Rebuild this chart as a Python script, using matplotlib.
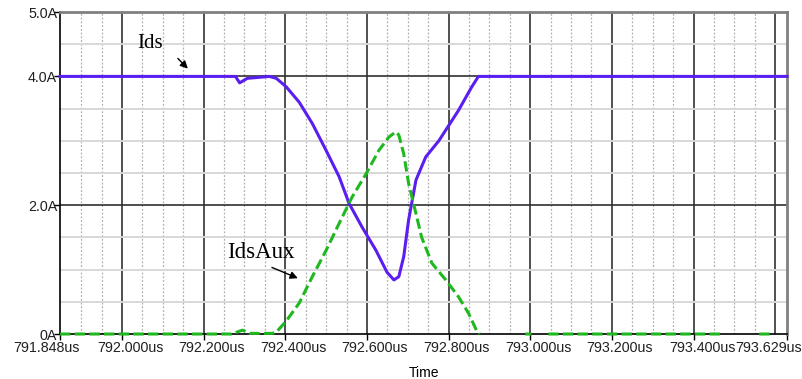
import numpy as np
import matplotlib
matplotlib.use("Agg")
import matplotlib.pyplot as plt
import matplotlib.transforms as mtransforms

# time axis in us, currents in A
ids_t = [791.848, 792.278, 792.288, 792.307, 792.361, 792.378, 792.402, 792.434,
         792.466, 792.500, 792.532, 792.556, 792.588, 792.622, 792.649, 792.666,
         792.678, 792.690, 792.702, 792.720, 792.744, 792.776, 792.824, 792.856,
         792.873, 793.629]
ids_i = [4.0, 4.0, 3.9, 3.97, 4.0, 3.97, 3.84, 3.6,
         3.27, 2.85, 2.44, 2.03, 1.66, 1.30, 0.96, 0.84,
         0.89, 1.2, 1.77, 2.39, 2.75, 3.0, 3.47, 3.83,
         4.0, 4.0]

# the green trace has holes on its zero line in the reference (nan = not drawn)
aux_t = [791.848, 792.268, 792.295, 792.312, 792.368, 792.378, 792.402, 792.434,
         792.466, 792.500, 792.532, 792.563, 792.598, 792.629, 792.654, 792.671,
         792.678, 792.690, 792.702, 792.720, 792.734, 792.759, 792.793, 792.824,
         792.849, 792.868, 792.876, 792.880,
         792.988, 793.003, 793.010,
         793.044, 793.471, 793.480,
         793.561, 793.586]
aux_i = [0.0, 0.0, 0.06, 0.01, 0.01, 0.03, 0.2, 0.48,
         0.89, 1.3, 1.72, 2.12, 2.49, 2.85, 3.06, 3.14,
         3.09, 2.8, 2.34, 1.87, 1.5, 1.1, 0.84, 0.58,
         0.32, 0.06, 0.0, np.nan,
         0.0, 0.0, np.nan,
         0.0, 0.0, np.nan,
         0.0, 0.0]

x_ticks = [791.848, 792.0, 792.2, 792.4, 792.6, 792.8, 793.0, 793.2, 793.4, 793.629]
x_labels = ["791.848us", "792.000us", "792.200us", "792.400us", "792.600us",
            "792.800us", "793.000us", "793.200us", "793.400us", "793.629us"]
y_ticks = [0, 2, 4, 5]
y_labels = ["0A", "2.0A", "4.0A", "5.0A"]

fig = plt.figure(figsize=(8.03, 3.79), dpi=100)
ax = fig.add_axes([0.0747, 0.1187, 0.9054, 0.8496])
x0, x1 = 791.848, 793.629
ax.set_xlim(x0, x1)
ax.set_ylim(0, 5)

# grid, drawn by hand to look like the simulator output
for v in np.arange(791.9, x1, 0.05):
    if abs(v / 0.2 - round(v / 0.2)) > 1e-6:
        ax.axvline(v, color="#b0b0b0", lw=0.9, ls=(0, (1.5, 1.5)), zorder=1)
for v in np.arange(792.0, 793.61, 0.2):
    ax.axvline(v, color="#505050", lw=1.4, zorder=1)
for h in np.arange(0.5, 5.0, 0.5):
    if h not in (2.0, 4.0):
        ax.axhline(h, color="#d8d8d8", lw=1.4, zorder=1)
for h in (2.0, 4.0):
    ax.axhline(h, color="#303030", lw=1.2, zorder=1)

ax.plot(ids_t, ids_i, color="#5a1ef0", lw=2.2, zorder=4, clip_on=False)
ax.plot(aux_t, aux_i, color="#1fb81f", lw=2.2, ls=(0, (3.4, 1.4)), zorder=5,
        clip_on=False)

ax.annotate("", xy=(792.166, 4.09), xytext=(792.132, 4.31),
            arrowprops=dict(arrowstyle="-|>", color="black", lw=1, mutation_scale=11))
ax.text(792.068, 4.51, "Ids", family="Liberation Serif", fontsize=15,
        ha="center", va="center")
ax.annotate("", xy=(792.437, 0.85), xytext=(792.361, 1.05),
            arrowprops=dict(arrowstyle="-|>", color="black", lw=1, mutation_scale=11))
ax.text(792.341, 1.27, "IdsAux", family="Liberation Serif", fontsize=16.5,
        ha="center", va="center")

ax.set_xticks(x_ticks)
ax.set_xticklabels(x_labels)
ax.set_yticks(y_ticks)
ax.set_yticklabels(y_labels)
ax.tick_params(axis="both", direction="out", length=4, width=1, color="black",
               labelsize=10.3)
ax.tick_params(axis="y", pad=-2)
ax.tick_params(axis="x", pad=1)
for lab in ax.get_xticklabels() + ax.get_yticklabels():
    lab.set_family("Liberation Sans")
    lab.set_color("#202020")

# the simulator shifts its time labels a little to the right of the ticks
shifts = [-14, 8, 8, 8, 8, 8, 8, 8, 9, -18]
for lab, dx in zip(ax.get_xticklabels(), shifts):
    lab.set_transform(lab.get_transform() +
                      mtransforms.ScaledTranslation(dx / 100, 0, fig.dpi_scale_trans))

ax.set_xlabel("Time", family="Liberation Sans", fontsize=10, labelpad=8)

for s in ("left", "bottom"):
    ax.spines[s].set_color("black")
    ax.spines[s].set_linewidth(1.2)
for s in ("top", "right"):
    ax.spines[s].set_color("#808080")
    ax.spines[s].set_linewidth(2)

fig.savefig("out.png", dpi=100)
